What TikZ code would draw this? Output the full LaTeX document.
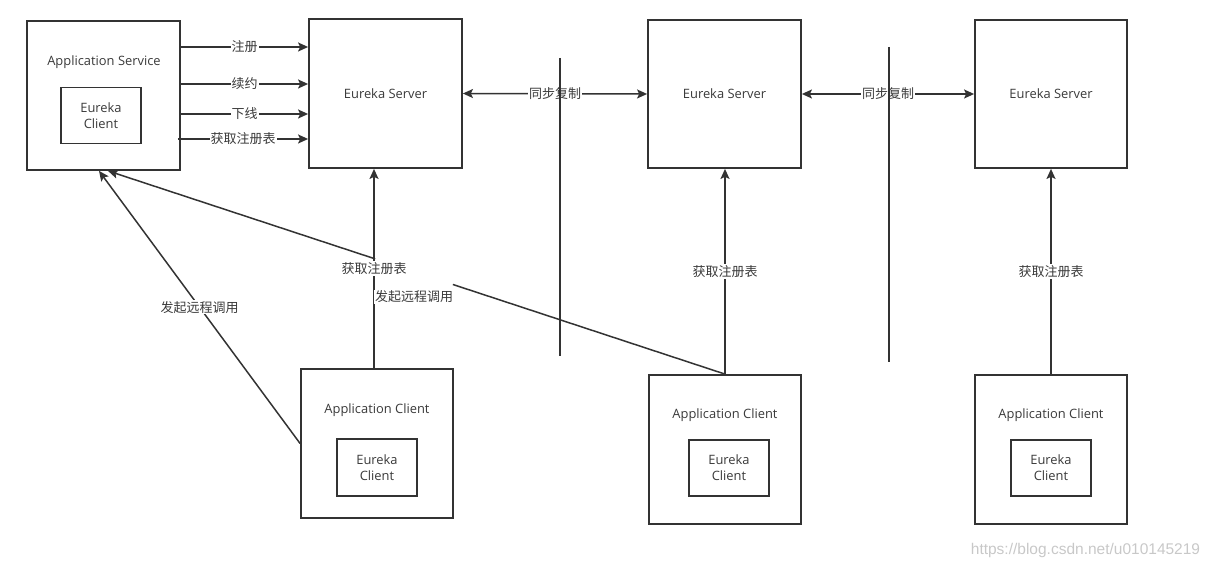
\documentclass[tikz,border=0pt]{standalone}
\usepackage{fontspec}
\setmainfont{Open Sans}
\newfontfamily\cjk{Noto Sans CJK SC}
\newfontfamily\markfont{Liberation Sans}
\usetikzlibrary{arrows.meta,calc}
\definecolor{ink}{HTML}{333333}
\definecolor{txt}{HTML}{3A3A3A}
\definecolor{faint}{HTML}{C8C8C8}

\tikzset{
  box/.style={draw=ink, line width=1.8pt, minimum width=#1, inner sep=0pt},
  title/.style={text=txt, font=\fontsize{12.9}{16}\selectfont, inner sep=0pt},
  inner/.style={draw=ink, line width=1.8pt, minimum width=80pt, minimum height=56pt,
    align=center, text=txt, font=\fontsize{12.9}{16}\selectfont, inner sep=0pt},
  lbl/.style={fill=white, inner sep=1pt, text=txt, font=\cjk\fontsize{13}{14}\selectfont},
  tip/.style={},
  arr/.style={draw=ink, line width=1.5pt, -{Stealth[length=10pt,width=9pt,inset=2pt]}},
  biarr/.style={draw=ink, line width=1.5pt, {Stealth[length=10pt,width=9pt,inset=2pt]}-{Stealth[length=10pt,width=9pt,inset=2pt]}},
  wire/.style={draw=ink, line width=1.5pt},
  divider/.style={draw=ink, line width=1.8pt}
}

\begin{document}
\begin{tikzpicture}[x=1pt,y=-1pt]
\useasboundingbox (0,0) rectangle (1211,569);

% service with its embedded Eureka client
\node[box=153pt, minimum height=149pt] (svc) at (103.5,95.5) {};
\node[title] (svct) at (104,62) {Application Service};
\node[inner] (svcc) at (101,115.5) {Eureka\\Client};

% Eureka servers
\node[box=153pt, minimum height=149pt, title] (s1) at (385.5,93.5) {Eureka Server};
\node[box=153pt, minimum height=148pt, title] (s2) at (724.5,94) {Eureka Server};
\node[box=152pt, minimum height=148pt, title] (s3) at (1051,94) {Eureka Server};

% application clients
\node[box=152pt, minimum height=149pt] (c1) at (377,443.5) {};
\node[title] (c1t) at (377,410) {Application Client};
\node[inner, minimum height=57pt] (c1c) at (377,467.5) {Eureka\\Client};

\node[box=152pt, minimum height=149pt] (c2) at (725,449.5) {};
\node[title] (c2t) at (725,415) {Application Client};
\node[inner] (c2c) at (729,468) {Eureka\\Client};

\node[box=152pt, minimum height=149pt] (c3) at (1051,449.5) {};
\node[title] (c3t) at (1051,415) {Application Client};
\node[inner] (c3c) at (1051,468) {Eureka\\Client};

% service -> first server
\draw[arr] (svc.east |- 0,47) -- node[lbl] {注册} (s1.west |- 0,47);
\draw[arr] (svc.east |- 0,84) -- node[lbl] {续约} (s1.west |- 0,84);
\draw[arr] (svc.east |- 0,114) -- node[lbl] {下线} (s1.west |- 0,114);
\draw[arr] ([xshift=-3pt]svc.east |- 0,139) -- node[lbl] {获取注册表} (s1.west |- 0,139);

% replication between servers
\draw[biarr] (s1.east) -- node[lbl] (r1) {同步复制} (s2.west);
\draw[biarr] (s2.east) -- node[lbl] (r2) {同步复制} (s3.west);

% clients fetch the registry
\draw[arr] ([xshift=-3pt]c1.north) -- node[lbl] {获取注册表} ([xshift=-3pt]c1.north |- s1.south);
\draw[arr] (c2.north) -- node[lbl] {获取注册表} (c2.north |- s2.south);
\draw[arr] (c3.north) -- node[lbl] {获取注册表} (c3.north |- s3.south);

% remote calls to the service
\draw[arr] (c1.west) -- node[lbl] {发起远程调用} ([xshift=-4.5pt]svc.south);
\coordinate (callend) at ([xshift=4.5pt]svc.south);
\coordinate (gapa) at ($(c2.north)!0.441!(callend)$);
\coordinate (gapb) at ($(c2.north)!0.567!(callend)$);
\draw[wire] (c2.north) -- (gapa);
\draw[arr] (gapb) -- (callend);
\node[lbl] (callt) at (414,297) {发起远程调用};

% region dividers
\coordinate (d1a) at (560,58);
\coordinate (d1b) at (560,356);
\coordinate (d2a) at (889,47);
\coordinate (d2b) at (889,362);
\draw[divider] (d1a) -- (d1b);
\draw[divider] (d2a) -- (d2b);

\node[text=faint, font=\markfont\fontsize{15.5}{16}\selectfont, inner sep=0pt] (wm) at (1085.5,550) {https://blog.csdn.net/u010145219};
\end{tikzpicture}
\end{document}
